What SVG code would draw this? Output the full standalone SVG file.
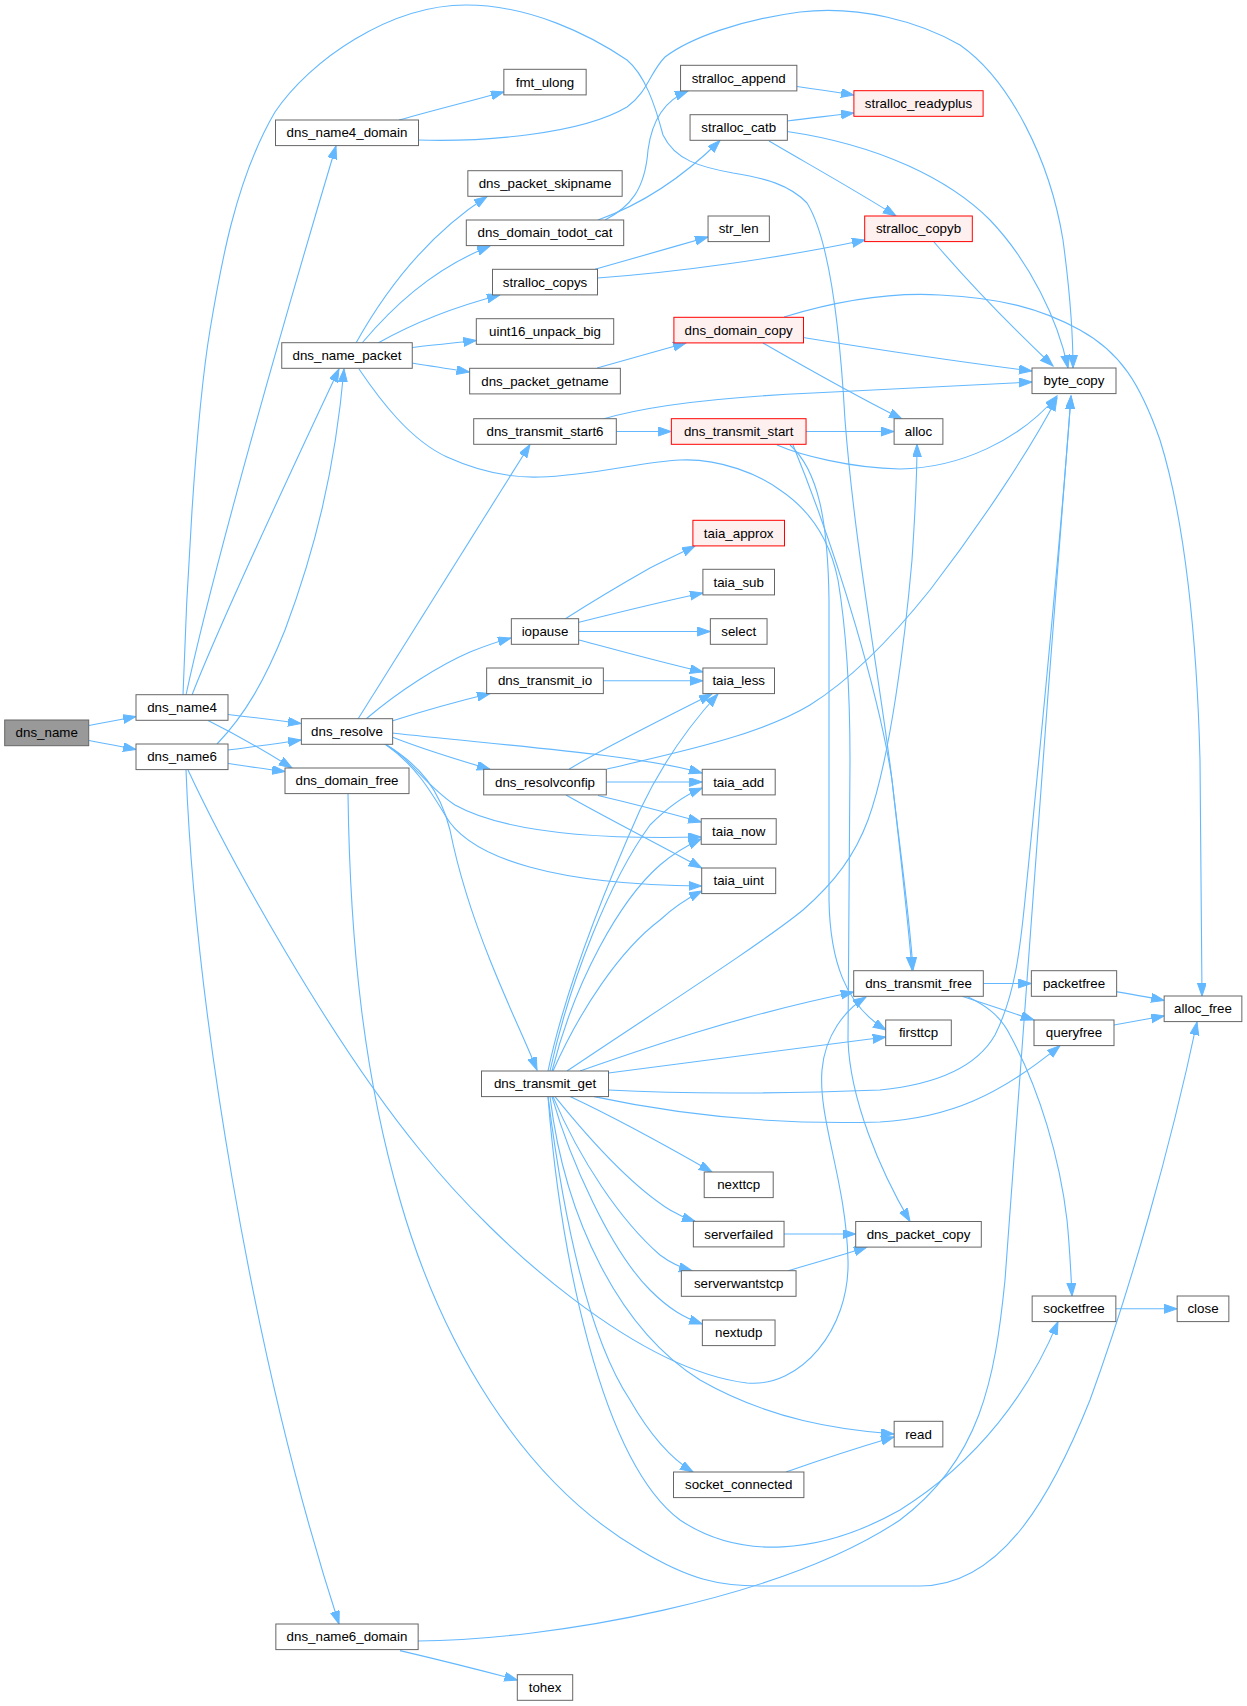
<svg xmlns="http://www.w3.org/2000/svg" width="1247" height="1706" viewBox="0 0 1247 1706">
<style>
.node rect{fill:#ffffff;stroke:#666666;stroke-width:1}
.node.red rect{fill:#fff0f0;stroke:#ff0000}
.node.root rect{fill:#999999;stroke:#666666}
.node text{font-family:"Liberation Sans",Arial,Helvetica,sans-serif;font-size:13.33px;text-anchor:middle;fill:#000000}
.edges path{fill:none;stroke:#63b8ff;stroke-width:1.1;marker-end:url(#arr)}
</style>
<defs>
<marker id="arr" markerWidth="14" markerHeight="10" refX="13" refY="4.5" orient="auto" markerUnits="userSpaceOnUse">
<path d="M0,0 L13,4.5 L0,9 z" fill="#63b8ff" stroke="#63b8ff" stroke-width="1"/>
</marker>
</defs>
<rect x="0" y="0" width="1247" height="1706" fill="#ffffff"/>
<g class="edges" id="edges">
<path d="M89,725.5 C103,723 118,720 136,716.5"/>
<path d="M89,740.5 C103,743 118,746 136,749.5"/>
<path d="M186,695 C215,560 290,300 336,146"/>
<path d="M192,695 C218,628 300,452 339,369"/>
<path d="M228,714.5 C250,717 275,720 301,723.5"/>
<path d="M208,720.5 C235,734 265,751 292,768"/>
<path d="M183,695 C186,600 195,420 210,330 C220,270 235,180 275,112 C310,60 390,5 466,5 C530,5 590,35 627,60 C645,75 655,105 663,135 C675,160 700,167 733,173 C765,178 790,185 807,203 C830,240 840,330 845,420 C855,550 880,680 892,780 C900,850 910,920 913,970"/>
<path d="M217,744 C245,715 265,680 285,630 C315,550 335,470 344,369"/>
<path d="M228,750 C250,747 275,744 301,740"/>
<path d="M228,763.5 C245,766 265,769 285,771.5"/>
<path d="M186,770 C195,1000 250,1350 339,1624"/>
<path d="M188,770 C230,860 330,1040 420,1150 C500,1250 640,1370 747,1383 C800,1388 850,1330 848,1260 C846,1180 818,1120 822,1070 C825,1035 845,1010 866,997"/>
<path d="M348,794 C350,950 365,1080 400,1200 C440,1340 520,1480 640,1550 C690,1580 720,1586 760,1586 L920,1586 C1000,1586 1050,1500 1090,1400 C1130,1290 1170,1150 1197,1022"/>
<path d="M399,120 C430,111 470,101 504,92"/>
<path d="M418,140 C480,142 580,135 627,107 C648,92 650,72 665,57 C690,38 740,20 800,12 C860,5 920,22 960,45 C1010,80 1050,160 1063,240 C1071,300 1073,340 1073,368"/>
<path d="M356,343 C380,300 420,240 487,196.5"/>
<path d="M362,343 C390,310 430,270 490,246"/>
<path d="M378,343 C410,325 450,308 500,295"/>
<path d="M412,347.5 C430,345 455,343 476.3,340.5"/>
<path d="M412,363 C430,366 450,369 469.6,372"/>
<path d="M359,369 C380,400 410,440 447,457 C480,472 510,478 540,477 C590,476 640,462 680,460 C720,458 760,475 780,490 C810,510 830,540 838,580 C848,640 850,700 850,760 L848,1040 C850,1100 880,1170 910,1221.5"/>
<path d="M605,220 C630,207 645,190 648,150 C652,120 665,100 688,91"/>
<path d="M598,220 C640,205 680,180 720,140.5"/>
<path d="M595,269.3 C630,259 670,248 708,237"/>
<path d="M597.5,278 C680,272 780,258 865,240"/>
<path d="M797,86.5 C815,89 835,92 854,95"/>
<path d="M787,121 C810,118 830,116 854,113"/>
<path d="M769,141 C810,165 860,193 896,216"/>
<path d="M787,131.5 C880,145 950,180 990,220 C1030,262 1058,320 1068,368"/>
<path d="M934,242 C975,290 1015,330 1053,366"/>
<path d="M597,368 C625,360 655,352 686,343"/>
<path d="M803,337.5 C880,350 960,362 1032,371"/>
<path d="M763,343 C810,370 860,398 902,419"/>
<path d="M784,317 C840,300 890,292 940,295 C1000,298 1040,308 1080,330 C1120,352 1140,383 1160,440 C1185,520 1197,640 1200,760 L1202,996"/>
<path d="M616.3,431.5 L671.3,431.5"/>
<path d="M603,419 C640,408 700,398 813,393 C900,388 980,384 1032,382"/>
<path d="M806,431.5 L894,431.5"/>
<path d="M777,445 C800,455 850,468 900,469 C960,468 1020,440 1057,396"/>
<path d="M790,445 C818,470 828,520 829,600 L829,900 C830,960 845,1005 886,1030"/>
<path d="M793,445 C840,560 880,700 892,780 C900,850 908,920 912,970"/>
<path d="M358,719 L530,444.5"/>
<path d="M366,719 C400,690 440,665 470,652 C490,644 500,641 511,638"/>
<path d="M392,721 C420,712 455,702 490,693.5"/>
<path d="M392,733 C500,745 640,755 702,773"/>
<path d="M392,737 C420,748 455,759 490,769.3"/>
<path d="M385,744 C410,758 425,785 455,805 C500,830 580,840 701,837"/>
<path d="M385,744 C415,765 430,790 445,815 C470,860 560,885 701.7,886"/>
<path d="M385,744 C420,765 440,790 450,830 C458,870 470,910 490,960 C510,1010 525,1040 537,1070"/>
<path d="M565,619 C590,603 620,585 650,568 C670,558 685,551 695,546"/>
<path d="M578,622.5 C620,612 660,602 702.9,593"/>
<path d="M578.7,631.5 L710.35,631.5"/>
<path d="M579,640 C620,651 660,662 702.9,672"/>
<path d="M603,680.8 L702.9,680.8"/>
<path d="M606.3,782 L702.2,782"/>
<path d="M598,795.5 C630,803 665,812 701.2,822"/>
<path d="M566,795 C610,820 660,845 701.7,868"/>
<path d="M569,769.3 C600,750 660,720 712,694"/>
<path d="M607,769 C680,752 760,735 810,705 C850,680 890,640 930,590 C980,525 1030,450 1057,398"/>
<path d="M548,1071 C565,990 600,900 640,810 C660,768 685,730 718,694"/>
<path d="M550,1071 C570,980 610,880 650,825 C670,805 685,795 702.2,788"/>
<path d="M552,1071 C575,980 620,900 660,865 C675,852 688,845 701.2,839"/>
<path d="M553,1071 C580,1010 620,950 660,920 C675,906 688,898 702,891"/>
<path d="M567,1071 C650,1015 760,945 803,910 C835,882 855,855 868,820 C890,760 905,640 912,560 C916,500 917,470 917,444.3"/>
<path d="M580,1071 C640,1050 740,1015 853.7,992"/>
<path d="M608.5,1073 L885.7,1037"/>
<path d="M608.5,1090 C700,1095 800,1093 880,1090 C930,1085 975,1070 995,1035 C1015,995 1020,950 1025,900 C1040,750 1060,550 1071,396"/>
<path d="M594,1096.6 C680,1115 780,1125 880,1122 C950,1118 1000,1095 1060,1045.6"/>
<path d="M570,1096.6 C620,1120 670,1148 712,1172"/>
<path d="M555,1096.6 C590,1140 630,1185 670,1210 C680,1216 688,1219 695,1221.3"/>
<path d="M553,1096.6 C580,1160 620,1220 660,1255 C672,1264 682,1268 692,1270.7"/>
<path d="M552,1096.6 C570,1160 610,1250 650,1290 C670,1310 685,1318 702.3,1324"/>
<path d="M550,1096.6 C565,1220 620,1330 700,1380 C770,1420 840,1430 894,1434"/>
<path d="M548,1096.6 C565,1230 590,1340 630,1400 C650,1435 670,1458 693,1472"/>
<path d="M548,1096.6 C560,1250 600,1460 680,1520 C740,1560 820,1555 900,1510 C980,1460 1030,1390 1058,1321.6"/>
<path d="M400,1650.6 C440,1660 480,1670 517.3,1680"/>
<path d="M418,1641 C550,1640 780,1600 900,1520 C980,1460 995,1380 1005,1280 C1020,1100 1046,700 1071,396"/>
<path d="M983.3,983.5 L1031.35,983.5"/>
<path d="M962,996.3 C985,1004 1010,1012 1034,1020"/>
<path d="M966.7,996.3 C985,1005 1000,1015 1010,1035 C1040,1090 1060,1160 1067,1220 C1070,1250 1071,1275 1072,1296"/>
<path d="M1116.3,991.7 C1130,994 1148,997 1164.15,1000.5"/>
<path d="M1114,1025 C1130,1022 1148,1019 1164.15,1016"/>
<path d="M1115.85,1308.8 L1177.15,1308.8"/>
<path d="M784,1234 L855.7,1234"/>
<path d="M788,1270.7 C810,1264 840,1256 867,1247"/>
<path d="M786,1472 C820,1460 860,1447 894,1437"/>
</g>
<g id="node-dns_name" class="node root"><rect x="4.7" y="720" width="84" height="25.7"/><text x="46.7" y="737.4">dns_name</text></g>
<g id="node-dns_name4" class="node"><rect x="136" y="694.7" width="92" height="25.6"/><text x="182" y="712">dns_name4</text></g>
<g id="node-dns_name6" class="node"><rect x="136" y="744" width="92" height="25.6"/><text x="182" y="761.3">dns_name6</text></g>
<g id="node-dns_name4_domain" class="node"><rect x="275.5" y="120" width="143" height="25.6"/><text x="347" y="137.3">dns_name4_domain</text></g>
<g id="node-dns_name_packet" class="node"><rect x="281.75" y="342.7" width="130.5" height="25.6"/><text x="347" y="360">dns_name_packet</text></g>
<g id="node-dns_resolve" class="node"><rect x="301.35" y="718.7" width="91.3" height="25.6"/><text x="347" y="736">dns_resolve</text></g>
<g id="node-dns_domain_free" class="node"><rect x="285" y="768" width="124" height="25.6"/><text x="347" y="785.3">dns_domain_free</text></g>
<g id="node-dns_name6_domain" class="node"><rect x="275.85" y="1624" width="142.3" height="25.6"/><text x="347" y="1641.3">dns_name6_domain</text></g>
<g id="node-fmt_ulong" class="node"><rect x="503.85" y="69.3" width="82.3" height="25.6"/><text x="545" y="86.6">fmt_ulong</text></g>
<g id="node-dns_packet_skipname" class="node"><rect x="467.85" y="170.7" width="154.3" height="25.6"/><text x="545" y="188">dns_packet_skipname</text></g>
<g id="node-dns_domain_todot_cat" class="node"><rect x="466.3" y="220" width="157.4" height="25.6"/><text x="545" y="237.3">dns_domain_todot_cat</text></g>
<g id="node-stralloc_copys" class="node"><rect x="492.5" y="269.3" width="105" height="25.6"/><text x="545" y="286.6">stralloc_copys</text></g>
<g id="node-uint16_unpack_big" class="node"><rect x="476.3" y="318.7" width="137.4" height="25.6"/><text x="545" y="336">uint16_unpack_big</text></g>
<g id="node-dns_packet_getname" class="node"><rect x="469.65" y="368.3" width="150.7" height="25.6"/><text x="545" y="385.6">dns_packet_getname</text></g>
<g id="node-dns_transmit_start6" class="node"><rect x="473.7" y="418.7" width="142.6" height="25.6"/><text x="545" y="436">dns_transmit_start6</text></g>
<g id="node-iopause" class="node"><rect x="511.35" y="618.7" width="67.3" height="25.6"/><text x="545" y="636">iopause</text></g>
<g id="node-dns_transmit_io" class="node"><rect x="486.65" y="668" width="116.7" height="25.6"/><text x="545" y="685.3">dns_transmit_io</text></g>
<g id="node-dns_resolvconfip" class="node"><rect x="483.7" y="769.3" width="122.6" height="25.6"/><text x="545" y="786.6">dns_resolvconfip</text></g>
<g id="node-dns_transmit_get" class="node"><rect x="481.5" y="1071" width="127" height="25.6"/><text x="545" y="1088.3">dns_transmit_get</text></g>
<g id="node-tohex" class="node"><rect x="517.3" y="1674.7" width="55.4" height="25.6"/><text x="545" y="1692">tohex</text></g>
<g id="node-stralloc_append" class="node"><rect x="680.55" y="65.3" width="116.3" height="25.6"/><text x="738.7" y="82.6">stralloc_append</text></g>
<g id="node-stralloc_catb" class="node"><rect x="690.05" y="114.7" width="97.3" height="25.6"/><text x="738.7" y="132">stralloc_catb</text></g>
<g id="node-str_len" class="node"><rect x="708.05" y="216" width="61.3" height="25.6"/><text x="738.7" y="233.3">str_len</text></g>
<g id="node-dns_domain_copy" class="node red"><rect x="673.9" y="317.3" width="129.6" height="25.6"/><text x="738.7" y="334.6">dns_domain_copy</text></g>
<g id="node-dns_transmit_start" class="node red"><rect x="671.35" y="418.7" width="134.7" height="25.6"/><text x="738.7" y="436">dns_transmit_start</text></g>
<g id="node-taia_approx" class="node red"><rect x="692.9" y="520.3" width="91.6" height="25.6"/><text x="738.7" y="537.6">taia_approx</text></g>
<g id="node-taia_sub" class="node"><rect x="702.9" y="569.3" width="71.6" height="25.6"/><text x="738.7" y="586.6">taia_sub</text></g>
<g id="node-select" class="node"><rect x="710.35" y="618.7" width="56.7" height="25.6"/><text x="738.7" y="636">select</text></g>
<g id="node-taia_less" class="node"><rect x="702.9" y="668" width="71.6" height="25.6"/><text x="738.7" y="685.3">taia_less</text></g>
<g id="node-taia_add" class="node"><rect x="702.2" y="769.3" width="73" height="25.6"/><text x="738.7" y="786.6">taia_add</text></g>
<g id="node-taia_now" class="node"><rect x="701.2" y="818.7" width="75" height="25.6"/><text x="738.7" y="836">taia_now</text></g>
<g id="node-taia_uint" class="node"><rect x="701.7" y="868" width="74" height="25.6"/><text x="738.7" y="885.3">taia_uint</text></g>
<g id="node-nexttcp" class="node"><rect x="704.2" y="1172" width="69" height="25.6"/><text x="738.7" y="1189.3">nexttcp</text></g>
<g id="node-serverfailed" class="node"><rect x="693.35" y="1221.3" width="90.7" height="25.6"/><text x="738.7" y="1238.6">serverfailed</text></g>
<g id="node-serverwantstcp" class="node"><rect x="681.35" y="1270.7" width="114.7" height="25.6"/><text x="738.7" y="1288">serverwantstcp</text></g>
<g id="node-nextudp" class="node"><rect x="702.35" y="1320" width="72.7" height="25.6"/><text x="738.7" y="1337.3">nextudp</text></g>
<g id="node-socket_connected" class="node"><rect x="673.5" y="1472" width="130.4" height="25.6"/><text x="738.7" y="1489.3">socket_connected</text></g>
<g id="node-stralloc_readyplus" class="node red"><rect x="853.9" y="90.7" width="129.2" height="25.6"/><text x="918.5" y="108">stralloc_readyplus</text></g>
<g id="node-stralloc_copyb" class="node red"><rect x="864.7" y="216" width="107.6" height="25.6"/><text x="918.5" y="233.3">stralloc_copyb</text></g>
<g id="node-alloc" class="node"><rect x="894.1" y="418.7" width="48.8" height="25.6"/><text x="918.5" y="436">alloc</text></g>
<g id="node-dns_transmit_free" class="node"><rect x="853.7" y="970.7" width="129.6" height="25.6"/><text x="918.5" y="988">dns_transmit_free</text></g>
<g id="node-firsttcp" class="node"><rect x="885.7" y="1020" width="65.6" height="25.6"/><text x="918.5" y="1037.3">firsttcp</text></g>
<g id="node-dns_packet_copy" class="node"><rect x="855.7" y="1221.5" width="125.6" height="25.6"/><text x="918.5" y="1238.8">dns_packet_copy</text></g>
<g id="node-read" class="node"><rect x="894.15" y="1421.3" width="48.7" height="25.6"/><text x="918.5" y="1438.6">read</text></g>
<g id="node-byte_copy" class="node"><rect x="1032" y="368" width="84" height="25.6"/><text x="1074" y="385.3">byte_copy</text></g>
<g id="node-packetfree" class="node"><rect x="1031.35" y="970.7" width="85.3" height="25.6"/><text x="1074" y="988">packetfree</text></g>
<g id="node-queryfree" class="node"><rect x="1034" y="1020" width="80" height="25.6"/><text x="1074" y="1037.3">queryfree</text></g>
<g id="node-socketfree" class="node"><rect x="1032.15" y="1296" width="83.7" height="25.6"/><text x="1074" y="1313.3">socketfree</text></g>
<g id="node-alloc_free" class="node"><rect x="1164.15" y="996" width="77.7" height="25.6"/><text x="1203" y="1013.3">alloc_free</text></g>
<g id="node-close" class="node"><rect x="1177.15" y="1296" width="51.7" height="25.6"/><text x="1203" y="1313.3">close</text></g>
</svg>
